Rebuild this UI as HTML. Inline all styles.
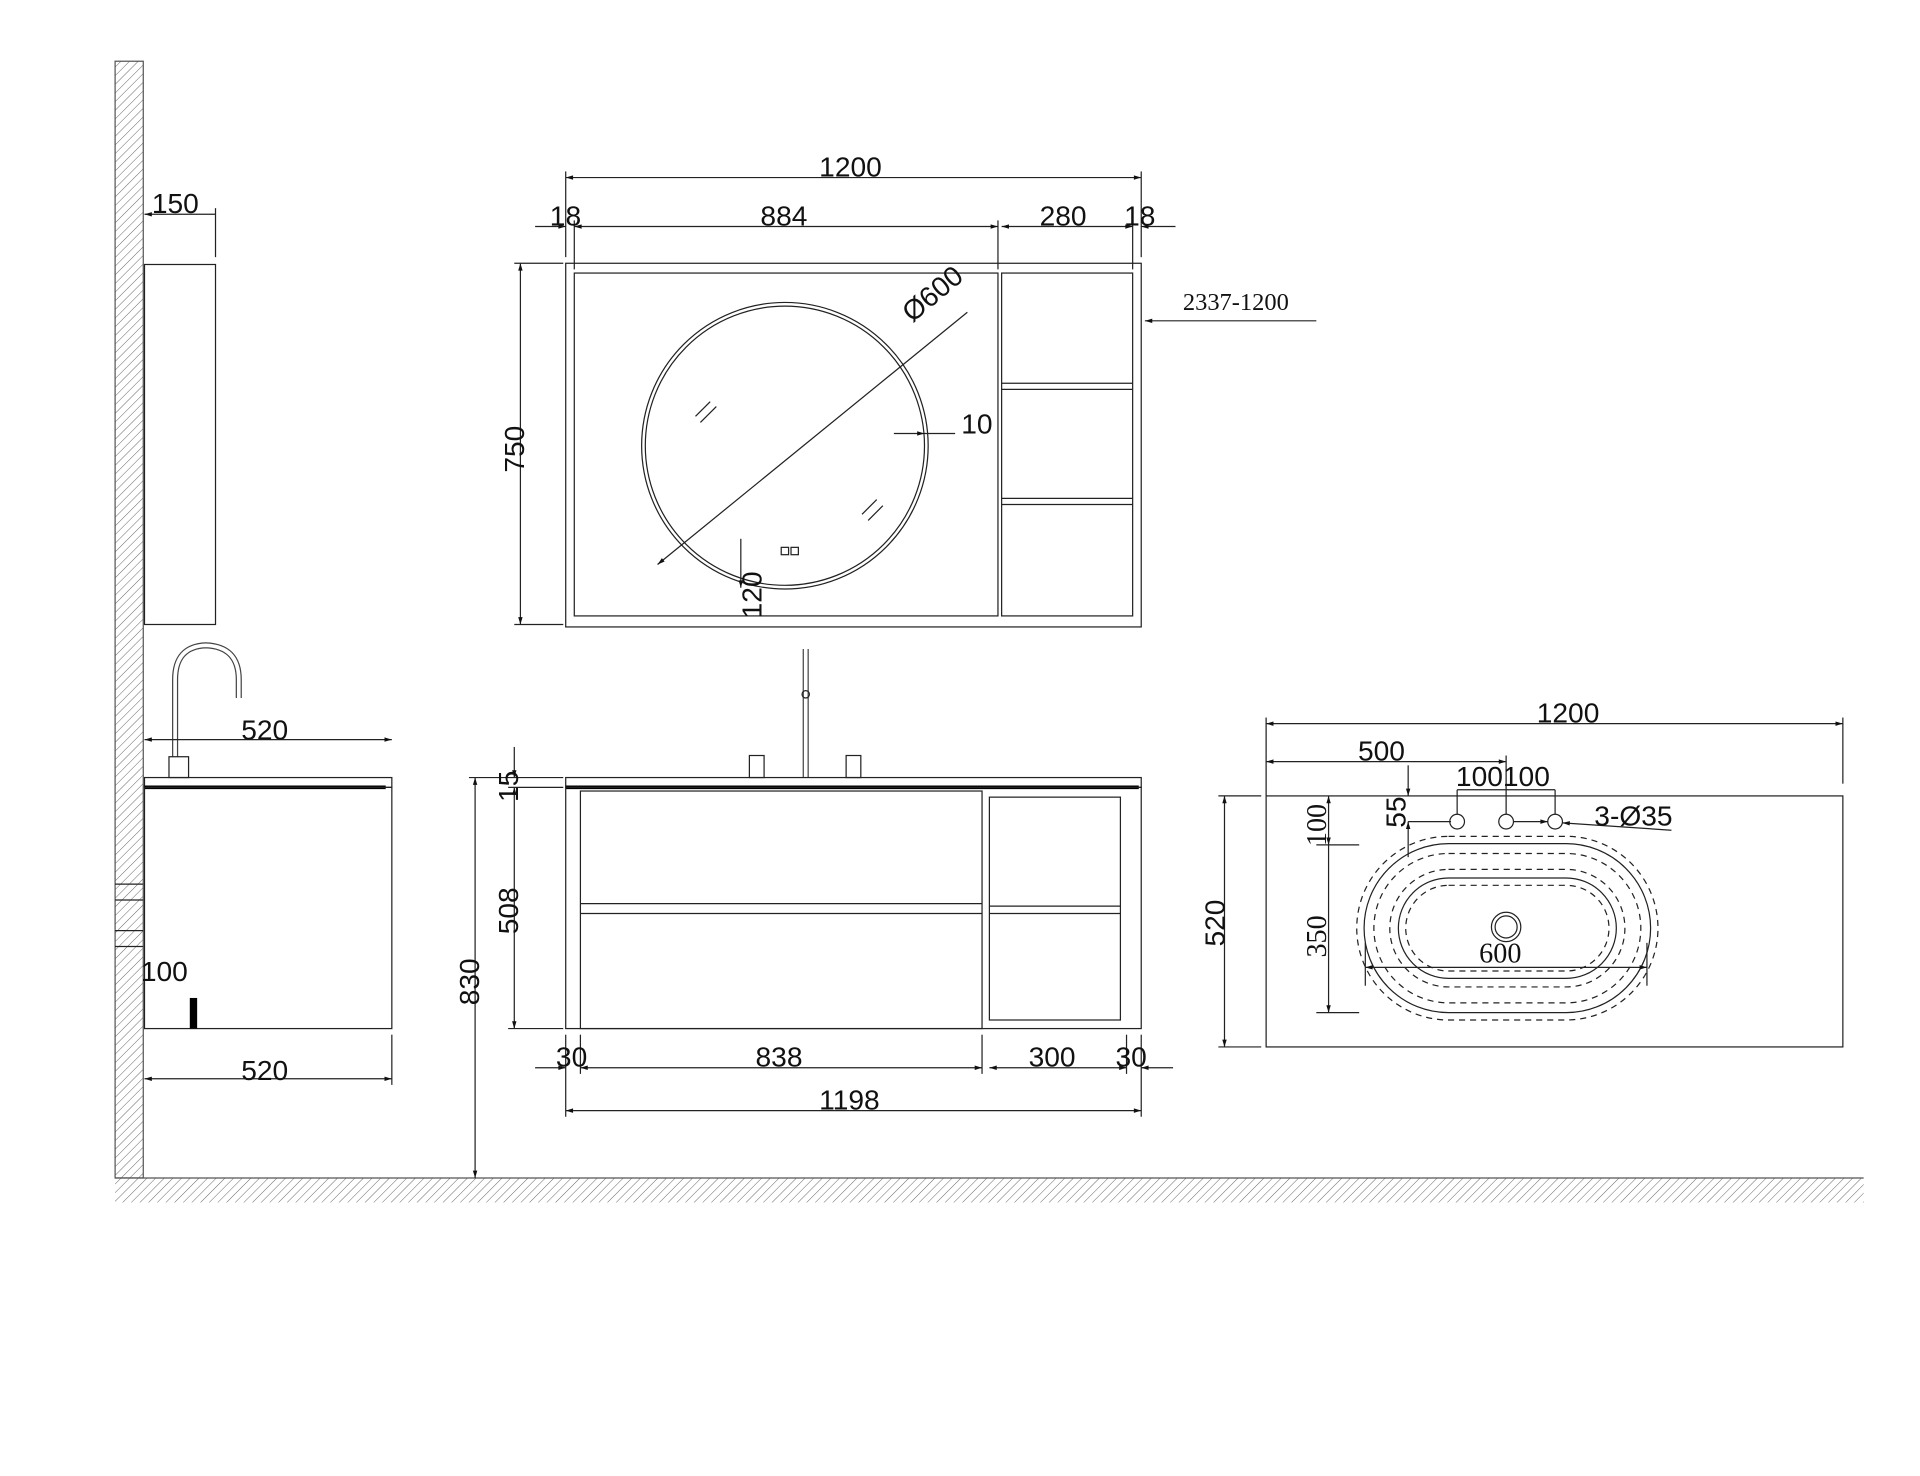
<!DOCTYPE html>
<html><head><meta charset="utf-8"><style>
html,body{margin:0;padding:0;background:#fff;}
svg{display:block;}
text{font-family:"Liberation Sans",sans-serif;fill:#111;}
</style></head><body>
<svg width="1920" height="1476" viewBox="0 0 1568 1205.4" preserveAspectRatio="none" xmlns="http://www.w3.org/2000/svg">
<defs>
<marker id="a" viewBox="0 0 10 10" refX="10" refY="5" markerWidth="12" markerHeight="6" orient="auto-start-reverse" markerUnits="userSpaceOnUse"><path d="M0,2 L10,5 L0,8 z" fill="#111"/></marker>
<pattern id="h" width="5" height="5" patternUnits="userSpaceOnUse" patternTransform="rotate(45)"><line x1="0" y1="0" x2="0" y2="5" stroke="#666" stroke-width="0.8"/></pattern>
</defs>
<g stroke="#222" fill="none" stroke-width="1">
<rect x="94" y="50" width="23" height="912" fill="url(#h)" stroke="#555"/>
<rect x="94" y="962" width="1428" height="20" fill="url(#h)" stroke="none"/>
<line x1="94" y1="962" x2="1522" y2="962" stroke="#555"/>
<rect x="118" y="216" width="58" height="294"/>
<line x1="118" y1="175" x2="176" y2="175" marker-start="url(#a)"/>
<line x1="176" y1="170" x2="176" y2="210"/>
<path d="M143,618 L143,555 Q143,528 168,527 Q195,528 195,555 L195,570" stroke-width="5" stroke="#444"/>
<path d="M143,618 L143,555 Q143,528 168,527 Q195,528 195,555 L195,570" stroke-width="3" stroke="#fff"/>
<rect x="138" y="618" width="16" height="17"/>
<rect x="118" y="635" width="202" height="8"/>
<line x1="118" y1="643" x2="315" y2="643" stroke="#000" stroke-width="3"/>
<rect x="118" y="643" width="202" height="197"/>
<line x1="118" y1="604" x2="320" y2="604" marker-start="url(#a)" marker-end="url(#a)"/>
<line x1="118" y1="881" x2="320" y2="881" marker-start="url(#a)" marker-end="url(#a)"/>
<line x1="320" y1="845" x2="320" y2="886"/>
<rect x="155" y="815" width="6" height="25" fill="#000" stroke="none"/>
<line x1="94" y1="722" x2="117" y2="722"/><line x1="94" y1="735" x2="117" y2="735"/>
<line x1="94" y1="760" x2="117" y2="760"/><line x1="94" y1="773" x2="117" y2="773"/>
<rect x="462" y="215" width="470" height="297"/>
<rect x="469" y="223" width="346" height="280"/>
<rect x="818" y="223" width="107" height="280"/>
<line x1="818" y1="313" x2="925" y2="313"/><line x1="818" y1="318" x2="925" y2="318"/>
<line x1="818" y1="407" x2="925" y2="407"/><line x1="818" y1="412" x2="925" y2="412"/>
<circle cx="641" cy="364" r="117"/><circle cx="641" cy="364" r="114"/>
<line x1="537" y1="461" x2="790" y2="255" marker-start="url(#a)"/>
<line x1="730" y1="354" x2="755" y2="354" marker-end="url(#a)"/>
<line x1="755" y1="354" x2="780" y2="354"/>
<line x1="568" y1="340" x2="580" y2="328"/><line x1="572" y1="345" x2="585" y2="332"/>
<line x1="704" y1="420" x2="716" y2="408"/><line x1="709" y1="425" x2="721" y2="413"/>
<rect x="638" y="447" width="6" height="6"/><rect x="646" y="447" width="6" height="6"/>
<line x1="605" y1="440" x2="605" y2="480" marker-end="url(#a)"/>
<line x1="462" y1="145" x2="932" y2="145" marker-start="url(#a)" marker-end="url(#a)"/>
<line x1="462" y1="140" x2="462" y2="210"/><line x1="932" y1="140" x2="932" y2="210"/>
<line x1="437" y1="185" x2="462" y2="185" marker-end="url(#a)"/>
<line x1="469" y1="185" x2="815" y2="185" marker-start="url(#a)" marker-end="url(#a)"/>
<line x1="818" y1="185" x2="925" y2="185" marker-start="url(#a)" marker-end="url(#a)"/>
<line x1="932" y1="185" x2="960" y2="185" marker-start="url(#a)"/>
<line x1="469" y1="180" x2="469" y2="220"/><line x1="815" y1="180" x2="815" y2="220"/><line x1="925" y1="180" x2="925" y2="220"/>
<line x1="425" y1="215" x2="425" y2="510" marker-start="url(#a)" marker-end="url(#a)"/>
<line x1="420" y1="215" x2="460" y2="215"/><line x1="420" y1="510" x2="460" y2="510"/>
<line x1="935" y1="262" x2="1075" y2="262" marker-start="url(#a)"/>
<path d="M658,635 L658,530" stroke-width="5" stroke="#444"/><path d="M658,635 L658,530" stroke-width="3" stroke="#fff"/>
<circle cx="658" cy="567" r="3"/>
<rect x="612" y="617" width="12" height="18"/><rect x="691" y="617" width="12" height="18"/>
<rect x="462" y="635" width="470" height="8"/>
<line x1="462" y1="643" x2="930" y2="643" stroke="#000" stroke-width="3"/>
<rect x="462" y="643" width="470" height="197"/>
<rect x="474" y="646" width="328" height="194"/>
<line x1="474" y1="738" x2="802" y2="738"/><line x1="474" y1="746" x2="802" y2="746"/>
<rect x="808" y="651" width="107" height="182"/>
<line x1="808" y1="740" x2="915" y2="740"/><line x1="808" y1="746" x2="915" y2="746"/>
<line x1="420" y1="610" x2="420" y2="635" marker-end="url(#a)"/>
<line x1="420" y1="643" x2="420" y2="840" marker-start="url(#a)" marker-end="url(#a)"/>
<line x1="415" y1="643" x2="460" y2="643"/><line x1="415" y1="840" x2="460" y2="840"/>
<line x1="388" y1="635" x2="388" y2="962" marker-start="url(#a)" marker-end="url(#a)"/>
<line x1="383" y1="635" x2="460" y2="635"/>
<line x1="437" y1="872" x2="462" y2="872" marker-end="url(#a)"/>
<line x1="474" y1="872" x2="802" y2="872" marker-start="url(#a)" marker-end="url(#a)"/>
<line x1="808" y1="872" x2="920" y2="872" marker-start="url(#a)" marker-end="url(#a)"/>
<line x1="932" y1="872" x2="958" y2="872" marker-start="url(#a)"/>
<line x1="462" y1="907" x2="932" y2="907" marker-start="url(#a)" marker-end="url(#a)"/>
<line x1="462" y1="845" x2="462" y2="912"/><line x1="932" y1="845" x2="932" y2="912"/>
<line x1="474" y1="845" x2="474" y2="877"/><line x1="802" y1="845" x2="802" y2="877"/><line x1="920" y1="845" x2="920" y2="877"/>
<rect x="1034" y="650" width="471" height="205"/>
<line x1="1034" y1="591" x2="1505" y2="591" marker-start="url(#a)" marker-end="url(#a)"/>
<line x1="1034" y1="586" x2="1034" y2="650"/><line x1="1505" y1="586" x2="1505" y2="640"/>
<line x1="1034" y1="622" x2="1230" y2="622" marker-start="url(#a)" marker-end="url(#a)"/>
<line x1="1230" y1="617" x2="1230" y2="665"/>
<line x1="1190" y1="645" x2="1270" y2="645"/>
<line x1="1190" y1="645" x2="1190" y2="665"/><line x1="1270" y1="645" x2="1270" y2="665"/>
<circle cx="1190" cy="671" r="6"/><circle cx="1230" cy="671" r="6"/><circle cx="1270" cy="671" r="6"/>
<line x1="1150" y1="671" x2="1185" y2="671"/>
<line x1="1236" y1="671" x2="1264" y2="671" marker-end="url(#a)"/>
<line x1="1276" y1="672" x2="1365" y2="678" marker-start="url(#a)"/>
<line x1="1150" y1="625" x2="1150" y2="650" marker-end="url(#a)"/>
<line x1="1150" y1="671" x2="1150" y2="700" marker-start="url(#a)"/>
<line x1="1085" y1="650" x2="1085" y2="690" marker-start="url(#a)" marker-end="url(#a)"/>
<line x1="1085" y1="690" x2="1085" y2="827" marker-end="url(#a)"/>
<line x1="1075" y1="690" x2="1110" y2="690"/><line x1="1075" y1="827" x2="1110" y2="827"/>
<line x1="1000" y1="650" x2="1000" y2="855" marker-start="url(#a)" marker-end="url(#a)"/>
<line x1="995" y1="650" x2="1030" y2="650"/><line x1="995" y1="855" x2="1030" y2="855"/>
<rect x="1108" y="683" width="246" height="150" rx="75" stroke-dasharray="5,4"/>
<rect x="1114" y="689" width="234" height="138" rx="69"/>
<rect x="1122" y="697" width="218" height="122" rx="61" stroke-dasharray="5,4"/>
<rect x="1135" y="710" width="192" height="96" rx="48" stroke-dasharray="5,4"/>
<rect x="1142" y="717" width="178" height="82" rx="41"/>
<rect x="1148" y="723" width="166" height="70" rx="35" stroke-dasharray="5,4"/>
<circle cx="1230" cy="757" r="12"/><circle cx="1230" cy="757" r="9"/>
<line x1="1115" y1="790" x2="1345" y2="790" marker-start="url(#a)" marker-end="url(#a)"/>
<line x1="1115" y1="770" x2="1115" y2="805"/><line x1="1345" y1="770" x2="1345" y2="805"/>
</g>
<g font-size="23">
<text x="124" y="174">150</text>
<text x="197" y="604">520</text>
<text x="197" y="882">520</text>
<text x="115" y="801">100</text>
<text x="669" y="144">1200</text>
<text x="449" y="184">18</text>
<text x="621" y="184">884</text>
<text x="849" y="184">280</text>
<text x="918" y="184">18</text>
<text x="785" y="354">10</text>
<text transform="translate(428,386) rotate(-90)">750</text>
<text transform="translate(622,505) rotate(-90)">120</text>
<text transform="translate(745,264) rotate(-40)">Ø600</text>
<text x="966" y="253" style="font-family:'Liberation Serif',serif;font-size:20px">2337-1200</text>
<text transform="translate(423,655) rotate(-90)">15</text>
<text transform="translate(423,763) rotate(-90)">508</text>
<text transform="translate(391,821) rotate(-90)">830</text>
<text x="454" y="871">30</text>
<text x="617" y="871">838</text>
<text x="840" y="871">300</text>
<text x="911" y="871">30</text>
<text x="669" y="906">1198</text>
<text x="1255" y="590">1200</text>
<text x="1109" y="621">500</text>
<text x="1189" y="642">100100</text>
<text x="1302" y="674">3-Ø35</text>
<text transform="translate(1148,676) rotate(-90)">55</text>
<text transform="translate(1083,691) rotate(-90)" style="font-family:'Liberation Serif',serif">100</text>
<text transform="translate(1083,782) rotate(-90)" style="font-family:'Liberation Serif',serif">350</text>
<text transform="translate(1000,773) rotate(-90)">520</text>
<text x="1208" y="786" style="font-family:'Liberation Serif',serif">600</text>
</g>
</svg>
</body></html>
